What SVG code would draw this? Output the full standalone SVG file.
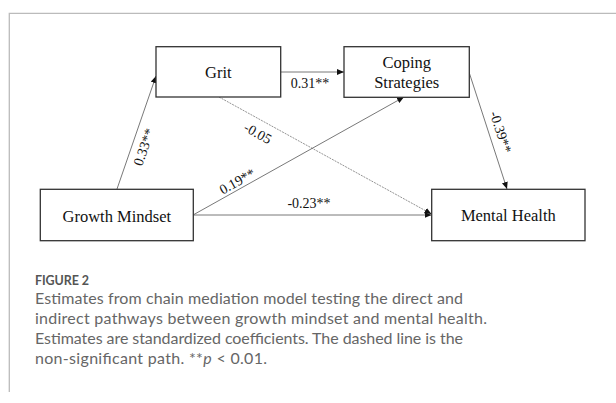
<svg xmlns="http://www.w3.org/2000/svg" width="616" height="403" viewBox="0 0 616 403">
<style>
.box{fill:#fff;stroke:#333;stroke-width:1.3}
.lbl{font-family:"Liberation Serif","Times New Roman",serif;font-size:16.5px;fill:#111;text-anchor:middle}
.coef{font-family:"Liberation Serif","Times New Roman",serif;font-size:14px;fill:#111;text-anchor:middle}
.edge{stroke:#555;stroke-width:0.8;fill:none;marker-end:url(#ah)}
.dash{stroke-dasharray:2 1;stroke:#777}
.cap{font-family:Lato,"Open Sans",sans-serif;font-size:16px;fill:#666}
.frame{stroke:#bbb;stroke-width:1.3;fill:none}
</style>
<defs>
<marker id="ah" markerUnits="userSpaceOnUse" markerWidth="7" markerHeight="6" refX="7" refY="3" orient="auto">
<path d="M0,0 L7,3 L0,6 z" fill="#111"/>
</marker>
</defs>
<rect width="616" height="403" fill="#fff"/>
<path class="frame" d="M616,13.3 H9.3 V392"/>
<g id="connectors">
<path class="edge" d="M117,189 L156,76"/>
<path class="edge" d="M281,72 L344,72"/>
<path class="edge" d="M469,72 L507,189"/>
<path class="edge dash" d="M219,97 L431.5,214"/>
<path class="edge" d="M193,215 L404,97"/>
<path class="edge" d="M193,215 L431.5,215"/>
<text class="coef" transform="translate(143.5,147) rotate(-71)" y="5">0.33**</text>
<text class="coef" x="310" y="88">0.31**</text>
<text class="coef" transform="translate(501,132) rotate(72)" y="5">-0.39**</text>
<text class="coef" transform="translate(258,133) rotate(29)" y="5">-0.05</text>
<text class="coef" transform="translate(237,181) rotate(-29.2)" y="5">0.19**</text>
<text class="coef" x="309" y="207.5">-0.23**</text>
</g>
<g id="grit"><rect class="box" x="156" y="46.7" width="124.7" height="50.3"/><text class="lbl" x="218.3" y="78">Grit</text></g>
<g id="coping"><rect class="box" x="344" y="46.7" width="125.3" height="50.6"/><text class="lbl" x="406.7" y="68">Coping</text><text class="lbl" x="406.7" y="88">Strategies</text></g>
<g id="growth"><rect class="box" x="40.3" y="189.3" width="153" height="51.4"/><text class="lbl" x="116.8" y="221.5">Growth Mindset</text></g>
<g id="mental"><rect class="box" x="431.7" y="189.3" width="153.3" height="51.4"/><text class="lbl" x="508.3" y="221">Mental Health</text></g>
<g id="caption">
<text x="35" y="285" font-family="Lato,'Open Sans',sans-serif" font-size="12.5px" font-weight="bold" fill="#555" textLength="54">FIGURE 2</text>
<text class="cap" x="35" y="304.3" textLength="428">Estimates from chain mediation model testing the direct and</text>
<text class="cap" x="35" y="324.3" textLength="452">indirect pathways between growth mindset and mental health.</text>
<text class="cap" x="35" y="344.3" textLength="428">Estimates are standardized coefficients. The dashed line is the</text>
<text class="cap" x="35" y="364.3" textLength="232">non-significant path. **<tspan font-style="italic">p</tspan> &lt; 0.01.</text>
</g>
</svg>
